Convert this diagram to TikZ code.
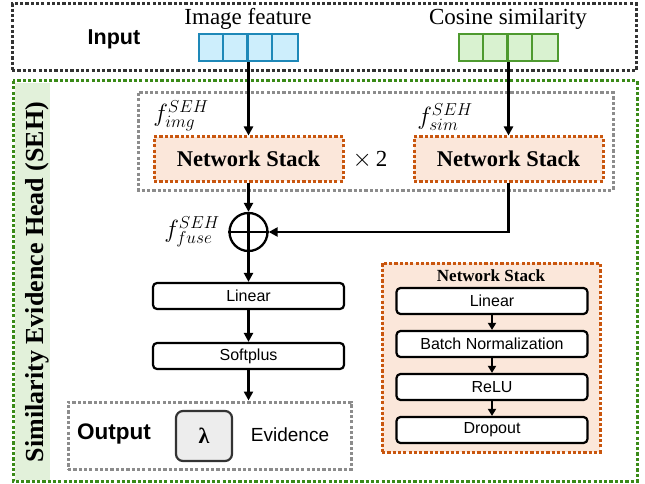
\documentclass[tikz,border=0pt]{standalone}
\usepackage{fontspec}
\setmainfont{Liberation Serif}
\setsansfont{Liberation Sans}
\usetikzlibrary{arrows.meta,calc}

\definecolor{dkgray}{HTML}{333333}
\definecolor{ltgray}{HTML}{8C8C8C}
\definecolor{sehgreen}{HTML}{3A8A18}
\definecolor{bandgreen}{HTML}{E2F1DA}
\definecolor{stackorange}{HTML}{C9560E}
\definecolor{stackfill}{HTML}{FBE7DA}
\definecolor{imgblue}{HTML}{1E88B8}
\definecolor{imgfill}{HTML}{CDEEFC}
\definecolor{simgreen}{HTML}{4E9A2F}
\definecolor{simfill}{HTML}{D9F2D0}
\definecolor{lamfill}{HTML}{EDEDED}

\newcommand{\fs}[1]{\fontsize{#1}{#1}\selectfont}

\begin{document}
\begin{tikzpicture}[x=1pt,y=-1pt,
  dotline/.style={line width=3pt,dash pattern=on 3.2pt off 2.1pt},
  arr/.style={line width=2.3pt,-{Triangle[length=9pt,width=9pt]}},
  sarr/.style={line width=2.2pt,-{Triangle[length=7pt,width=8pt]}},
  stackbox/.style={dotline,draw=stackorange,fill=stackfill,
    minimum width=189pt,minimum height=44pt,font=\bfseries\fs{22.5}},
  layerbox/.style={draw,line width=2.2pt,rounded corners=4pt,fill=white,
    minimum width=191pt,minimum height=26pt,font=\sffamily\fs{16}},
  slayer/.style={draw,line width=2.2pt,rounded corners=4pt,fill=white,
    minimum width=191pt,minimum height=26pt,font=\sffamily\fs{16}},
  vecbox/.style={draw,line width=2.2pt,minimum width=99pt,minimum height=27pt},
  flabel/.style={font=\fs{24}}
]
\useasboundingbox (0,0) rectangle (645,484);

% ---- input block ----
\node[draw=dkgray,dotline,minimum width=624pt,minimum height=67pt] (inbox) at (324,37.5) {};
\node[font=\sffamily\bfseries\fs{21.5}] (intxt) at (114,39) {Input};
\node[font=\fs{23}] (imgtxt) at (248,19) {Image feature};
\node[font=\fs{23}] (simtxt) at (508,19) {Cosine similarity};
\node[vecbox,draw=imgblue,fill=imgfill] (imgvec) at (248.5,47.5) {};
\node[vecbox,draw=simgreen,fill=simfill] (simvec) at (508.5,47.5) {};
\foreach \k in {1,2,3}{
  \draw[imgblue,line width=2.2pt] ($(imgvec.north west)+(\k*24.75,0)$) -- ($(imgvec.south west)+(\k*24.75,0)$);
  \draw[simgreen,line width=2.2pt] ($(simvec.north west)+(\k*24.75,0)$) -- ($(simvec.south west)+(\k*24.75,0)$);
}

% ---- similarity evidence head ----
\fill[bandgreen] (15,83) rectangle (50,480);
\draw[sehgreen,dotline] (13,81) rectangle (637,481);
\node[rotate=90,font=\bfseries\fs{26}] (sehtxt) at (37,282) {Similarity Evidence Head (SEH)};

% branch networks
\draw[ltgray,dotline] (138,93) rectangle (613,190);
\node[stackbox] (nsL) at (248.5,159) {Network Stack};
\node[stackbox] (nsR) at (508.5,159) {Network Stack};
\node[font=\fs{23}] (times) at (370,160) {$\times$\,2};
\node[flabel] (fimg) at (181,116) {$f^{SEH}_{img}$};
\node[flabel] (fsim) at (445,117) {$f^{SEH}_{sim}$};

% fusion
\node[circle,draw,line width=2.3pt,minimum size=38pt,inner sep=0pt] (fuse) at (248.5,232) {};
\draw[line width=2.3pt] (fuse.north) -- (fuse.south) (fuse.west) -- (fuse.east);
\node[flabel] (ffuse) at (192,232) {$f^{SEH}_{fuse}$};

% head layers
\node[layerbox] (lin) at (248.5,296) {Linear};
\node[layerbox] (soft) at (248.5,356) {Softplus};

% output
\node[draw=ltgray,dotline,minimum width=283pt,minimum height=67pt] (outbox) at (209.5,435.5) {};
\node[font=\sffamily\bfseries\fs{22.5}] (outtxt) at (114,434) {Output};
\node[draw=dkgray,fill=lamfill,line width=2.2pt,rounded corners=7pt,
  minimum width=56pt,minimum height=50pt,font=\bfseries\fs{22}] (lam) at (204,436) {λ};
\node[font=\sffamily\fs{19}] (evid) at (290,435) {Evidence};

% connectors
\draw[arr] (imgvec.south) -- (nsL.north);
\draw[arr] (simvec.south) -- (nsR.north);
\draw[arr] (nsL.south) -- (fuse.north);
\draw[arr] (nsR.south) |- (fuse.east);
\draw[arr] (fuse.south) -- (lin.north);
\draw[arr] (lin.south) -- (soft.north);
\draw[arr] (soft.south) -- (soft.south |- outbox.north);

% network stack detail
\node[dotline,draw=stackorange,fill=stackfill,
  minimum width=218pt,minimum height=189pt] (nsbox) at (491,357.5) {};
\node[font=\bfseries\fs{17}] (nstitle) at (491,276) {Network Stack};
\node[slayer] (sLin) at (492,301) {Linear};
\node[slayer] (sBN) at (492,344) {Batch Normalization};
\node[slayer] (sRelu) at (492,387) {ReLU};
\node[slayer] (sDrop) at (492,430) {Dropout};
\draw[sarr] (sLin.south) -- (sBN.north);
\draw[sarr] (sBN.south) -- (sRelu.north);
\draw[sarr] (sRelu.south) -- (sDrop.north);
\end{tikzpicture}
\end{document}
